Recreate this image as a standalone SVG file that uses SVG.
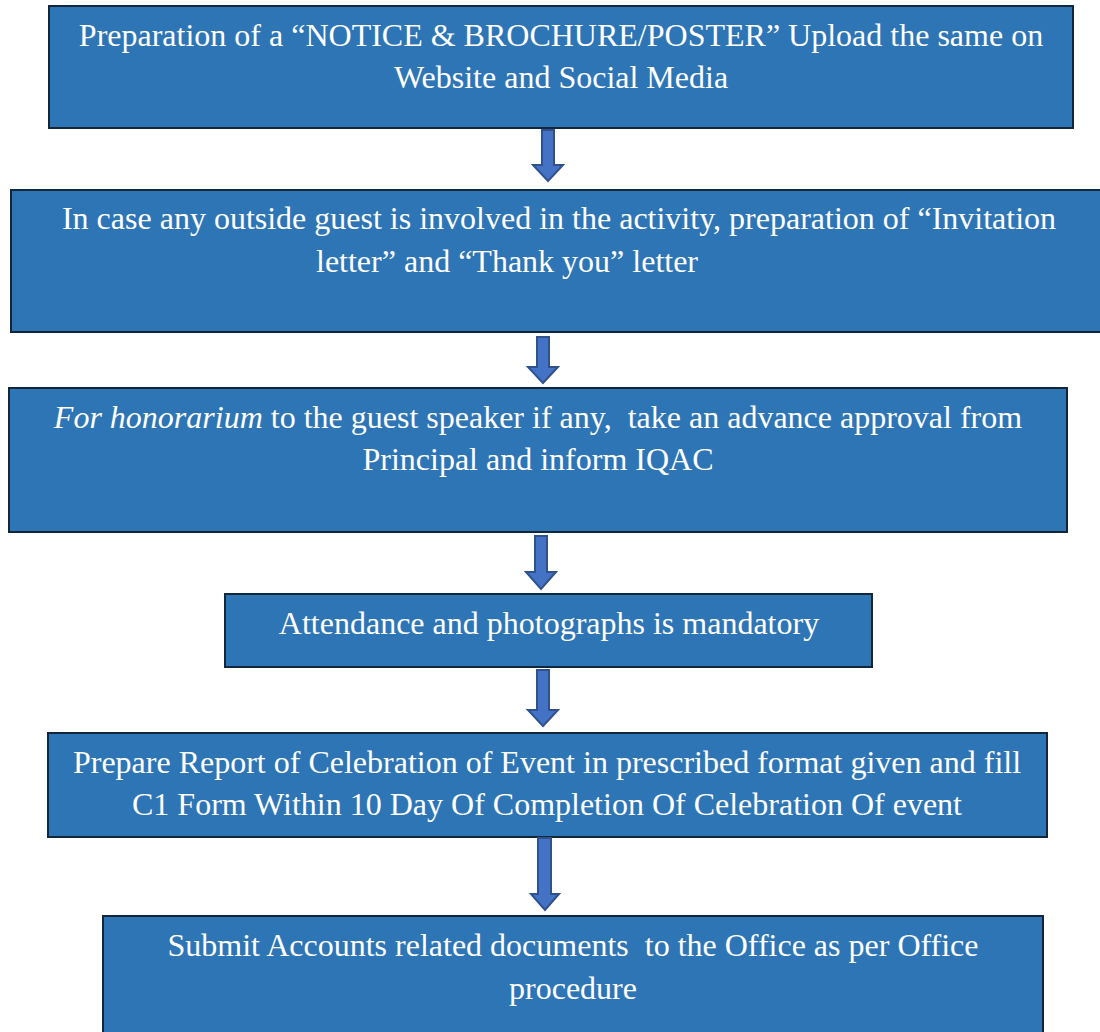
<svg xmlns="http://www.w3.org/2000/svg" width="1100" height="1032" viewBox="0 0 1100 1032" xml:space="preserve">
<style>
.box{fill:#2E75B6;stroke:#14263A;stroke-width:2}
.t{font-family:"Liberation Serif","Times New Roman",serif;font-size:32px;fill:#FFFFFF;text-anchor:middle;white-space:pre}
.arr{fill:#4472C4;stroke:#2F528F;stroke-width:2;stroke-linejoin:miter}
</style>
<rect width="1100" height="1032" fill="#FFFFFF"/>
<g id="n1">
<rect class="box" x="49" y="6" width="1024" height="122"/>
<text class="t" x="561" y="46">Preparation of a “NOTICE &amp; BROCHURE/POSTER” Upload the same on</text>
<text class="t" x="561" y="88">Website and Social Media</text>
</g>
<g id="n2">
<rect class="box" x="11" y="190" width="1100" height="142"/>
<text class="t" x="559" y="229">In case any outside guest is involved in the activity, preparation of “Invitation</text>
<text class="t" x="507" y="272">letter” and “Thank you” letter</text>
</g>
<g id="n3">
<rect class="box" x="9" y="388" width="1058" height="144"/>
<text class="t" x="538" y="428"><tspan font-style="italic">For honorarium</tspan> to the guest speaker if any,  take an advance approval from</text>
<text class="t" x="538" y="470">Principal and inform IQAC</text>
</g>
<g id="n4">
<rect class="box" x="225" y="594" width="647" height="73"/>
<text class="t" x="549" y="634">Attendance and photographs is mandatory</text>
</g>
<g id="n5">
<rect class="box" x="48" y="733" width="999" height="104"/>
<text class="t" x="547" y="773">Prepare Report of Celebration of Event in prescribed format given and fill</text>
<text class="t" x="547" y="815">C1 Form Within 10 Day Of Completion Of Celebration Of event</text>
</g>
<g id="n6">
<rect class="box" x="103" y="916" width="940" height="130"/>
<text class="t" x="573" y="956">Submit Accounts related documents  to the Office as per Office</text>
<text class="t" x="573" y="999">procedure</text>
</g>
<g id="connectors">
<polygon class="arr" points="542,130 554,130 554,165 563,165 548,181 533,165 542,165"/>
<polygon class="arr" points="537,337 549,337 549,367 558,367 543,383 528,367 537,367"/>
<polygon class="arr" points="535,536 547,536 547,572 556,572 541,589 526,572 535,572"/>
<polygon class="arr" points="537,670 549,670 549,710 558,710 543,726 528,710 537,710"/>
<polygon class="arr" points="538,838 551,838 551,894 559,894 545,910 531,894 538,894"/>
</g>
</svg>
